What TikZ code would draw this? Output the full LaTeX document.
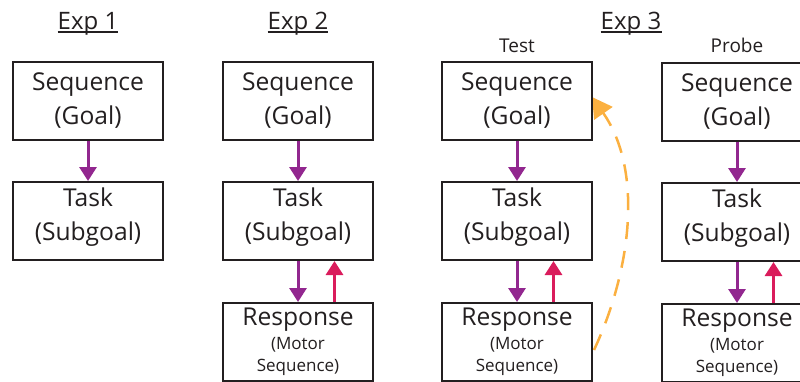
\documentclass[tikz,border=0pt]{standalone}
\usepackage{fontspec}
\setmainfont{Open Sans}
\usetikzlibrary{arrows.meta,backgrounds,positioning}
\definecolor{ink}{RGB}{35,31,32}
\definecolor{goalpurple}{RGB}{146,39,143}
\definecolor{fbpink}{RGB}{218,28,92}
\definecolor{probeorange}{RGB}{251,176,64}

\begin{document}
\begin{tikzpicture}[x=1pt,y=-1pt,
	box/.style={shape=rectangle,draw=ink,line width=2pt,fill=white,minimum width=150pt,minimum height=78pt,inner sep=0pt,align=center,text=ink,font=\fontsize{24.6}{34.5}\selectfont},
	taskbox/.style={box,text depth=14pt},
	title/.style={inner sep=0pt,anchor=base,text=ink,font=\fontsize{24}{28}\selectfont},
	cond/.style={inner sep=0pt,anchor=base,text=ink,font=\fontsize{19}{22}\selectfont},
	uline/.style={draw=ink,line width=1.4pt},
	down/.style={draw=goalpurple,line width=3pt,-{Triangle[length=14pt,width=17pt]}},
	up/.style={draw=fbpink,line width=3pt,-{Triangle[length=14pt,width=17pt]}},
	back/.style={draw=probeorange,line width=2.5pt,dash pattern=on 17pt off 12pt,-{Triangle[length=20pt,width=22pt]}}]
	\useasboundingbox (0,0) rectangle (800,381);

	\path (88,29) node (e1) [title] {Exp 1}
		  (298,29) node (e2) [title] {Exp 2}
		  (631,29) node (e3) [title] {Exp 3}
		  (517,52) node (test) [cond] {Test}
		  (737,52) node (probe) [cond] {Probe};
	\foreach \e in {e1,e2,e3}
		\draw[uline] ([yshift=-3]\e.base west) -- ([yshift=-3]\e.base east);

	\path (88,100.5) node (s1) [box] {Sequence\\(Goal)}
		  (88,221) node (t1) [taskbox] {Task\\(Subgoal)};

	\path (298,100.5) node (s2) [box] {Sequence\\(Goal)}
		  (298,221) node (t2) [taskbox] {Task\\(Subgoal)}
		  (298,342) node (r2) [box] {Response\\[-10.5pt]\fontsize{17}{22}\selectfont(Motor\\[-12.5pt]\fontsize{17}{22}\selectfont Sequence)};

	\path (517,100.5) node (s3) [box] {Sequence\\(Goal)}
		  (517,221) node (t3) [taskbox] {Task\\(Subgoal)}
		  (517,342) node (r3) [box] {Response\\[-10.5pt]\fontsize{17}{22}\selectfont(Motor\\[-12.5pt]\fontsize{17}{22}\selectfont Sequence)};

	\path (737,101.5) node (s4) [box] {Sequence\\(Goal)}
		  (737,222) node (t4) [taskbox] {Task\\(Subgoal)}
		  (737,343) node (r4) [box] {Response\\[-10.5pt]\fontsize{17}{22}\selectfont(Motor\\[-12.5pt]\fontsize{17}{22}\selectfont Sequence)};

	\draw[down] (s1) -- (t1);
	\foreach \s/\t/\r in {s2/t2/r2,s3/t3/r3,s4/t4/r4} {
		\draw[down] (\s) -- (\t);
		\draw[down] (\t) -- (\r);
		\draw[up] ([xshift=36.5]\r.north) -- ([xshift=36.5]\t.south);
	}

	% probe feedback runs behind the test boxes
	\begin{scope}[on background layer]
		\draw[back] ([xshift=1,yshift=-8]r3.east) to[out=65,in=-55,looseness=0.9] ([xshift=-1,yshift=3.5]s3.east);
	\end{scope}
\end{tikzpicture}
\end{document}
